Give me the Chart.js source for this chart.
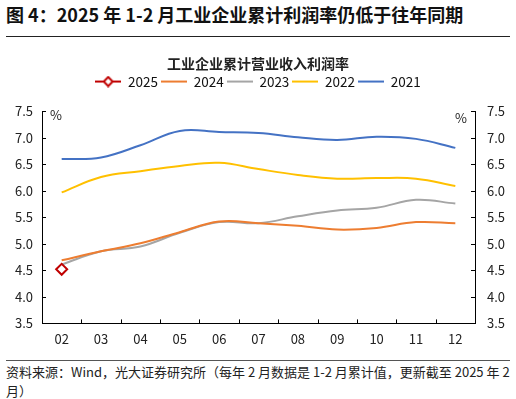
<!DOCTYPE html>
<html>
<head>
<meta charset="utf-8">
<script src="https://cdn.jsdelivr.net/npm/chart.js@4.4.1/dist/chart.umd.min.js"></script>
<style>
  body { margin: 0; background: #fff; font-family: "Noto Sans CJK SC", "Noto Sans", sans-serif; }
  #wrap { position: relative; width: 516px; height: 399px; overflow: hidden; }
  #head { position: absolute; left: 6px; top: 1px; font-size: 18px; font-weight: bold; color: #111; white-space: nowrap; }
  #rule1 { position: absolute; left: 6px; top: 36px; width: 504px; height: 1px; background: #222; }
  #rule2 { position: absolute; left: 6px; top: 360px; width: 504px; height: 1px; background: #555; }
  #foot { position: absolute; left: 6px; top: 362px; width: 506px; font-size: 13px; line-height: 19px; color: #222; }
  #box { position: absolute; left: 0; top: 50px; width: 516px; height: 305px; }
</style>
</head>
<body>
<div id="wrap">
  <div id="head">图 4：2025 年 1-2 月工业企业累计利润率仍低于往年同期</div>
  <div id="rule1"></div>
  <div id="box"><canvas id="chart"></canvas></div>
  <div id="rule2"></div>
  <div id="foot">资料来源：Wind，光大证券研究所（每年 2 月数据是 1-2 月累计值，更新截至 2025 年 2 月）</div>
</div>
<script>
// months (02 = Jan-Feb cumulative)
var months = ['02', '03', '04', '05', '06', '07', '08', '09', '10', '11', '12'];

// profit margin of operating revenue, %
var y2025 = [4.52, null, null, null, null, null, null, null, null, null, null];
var y2024 = [4.69, 4.86, 5.01, 5.22, 5.42, 5.39, 5.34, 5.27, 5.30, 5.41, 5.39];
var y2023 = [4.61, 4.86, 4.95, 5.21, 5.41, 5.39, 5.52, 5.63, 5.68, 5.83, 5.76];
var y2022 = [5.97, 6.26, 6.37, 6.47, 6.53, 6.41, 6.30, 6.23, 6.24, 6.23, 6.09];
var y2021 = [6.60, 6.63, 6.86, 7.13, 7.11, 7.09, 7.01, 6.96, 7.02, 6.98, 6.81];

var yTicks = [3.5, 4.0, 4.5, 5.0, 5.5, 6.0, 6.5, 7.0, 7.5];

var FONT = '"Noto Sans CJK SC", "Noto Sans", sans-serif';

// small legend icons: a line, with a diamond for 2025
function legendIcon(color, diamond) {
  var c = document.createElement('canvas');
  c.width = 26; c.height = 12;
  var g = c.getContext('2d');
  g.strokeStyle = color;
  g.lineWidth = 2;
  g.beginPath(); g.moveTo(0, 6); g.lineTo(26, 6); g.stroke();
  if (diamond) {
    g.fillStyle = '#fff';
    g.beginPath();
    g.moveTo(13, 1.5); g.lineTo(17.5, 6); g.lineTo(13, 10.5); g.lineTo(8.5, 6); g.closePath();
    g.fill(); g.stroke();
  }
  return c;
}

function lineSet(label, data, color) {
  return {
    label: label,
    data: data,
    borderColor: color,
    backgroundColor: color,
    borderWidth: 2,
    pointRadius: 0,
    pointHoverRadius: 0,
    tension: 0.4,
    fill: false,
    pointStyle: legendIcon(color, false)
  };
}

// extra room under the legend
var legendGap = {
  id: 'legendGap',
  beforeInit: function(chart) {
    var fit = chart.legend.fit;
    chart.legend.fit = function() {
      fit.bind(chart.legend)();
      this.height += 13;
    };
  }
};

// inward tick marks and the % units
var axisMarks = {
  id: 'axisMarks',
  afterDraw: function(chart) {
    var ctx = chart.ctx;
    var a = chart.chartArea;
    var xs = chart.scales.x, yl = chart.scales.y, yr = chart.scales.y2;
    ctx.save();
    ctx.strokeStyle = '#000';
    ctx.lineWidth = 1;
    ctx.beginPath();
    for (var i = 1; i < months.length; i++) {
      var px = Math.round(xs.getPixelForValue(i - 0.5)) + 0.5;
      ctx.moveTo(px, a.bottom); ctx.lineTo(px, a.bottom - 4);
    }
    yTicks.forEach(function(v) {
      var py = Math.round(yl.getPixelForValue(v)) + 0.5;
      ctx.moveTo(a.left, py); ctx.lineTo(a.left + 4, py);
      var pr = Math.round(yr.getPixelForValue(v)) + 0.5;
      ctx.moveTo(a.right, pr); ctx.lineTo(a.right - 4, pr);
    });
    ctx.stroke();
    ctx.fillStyle = '#222';
    ctx.font = '13px ' + FONT;
    ctx.textBaseline = 'middle';
    ctx.textAlign = 'left';
    ctx.fillText('%', a.left + 8, a.top + 4);
    ctx.textAlign = 'right';
    ctx.fillText('%', a.right - 8, a.top + 7);
    ctx.restore();
  }
};

var set2025 = {
  label: '2025',
  data: y2025,
  borderColor: '#C00000',
  backgroundColor: '#ffffff',
  borderWidth: 2,
  pointStyle: 'rectRot',
  pointRadius: 5.5,
  pointHoverRadius: 5.5,
  showLine: false
};

new Chart(document.getElementById('chart'), {
  type: 'line',
  data: {
    labels: months,
    datasets: [
      set2025,
      lineSet('2024', y2024, '#ED7D31'),
      lineSet('2023', y2023, '#A5A5A5'),
      lineSet('2022', y2022, '#FFC000'),
      lineSet('2021', y2021, '#4472C4')
    ]
  },
  options: {
    responsive: true,
    maintainAspectRatio: false,
    animation: false,
    events: [],
    layout: { padding: { left: 0, right: 0, top: 3, bottom: 0 } },
    plugins: {
      title: {
        display: true,
        text: '工业企业累计营业收入利润率',
        color: '#222',
        font: { family: FONT, size: 14, weight: 'bold' },
        padding: { top: 2, bottom: 0 }
      },
      legend: {
        display: true,
        labels: {
          usePointStyle: true,
          pointStyleWidth: 26,
          padding: 3,
          color: '#111',
          font: { family: FONT, size: 13.5 },
          generateLabels: function(chart) {
            return chart.data.datasets.map(function(ds, i) {
              var color = i === 0 ? '#C00000' : ds.borderColor;
              return {
                text: ds.label,
                pointStyle: i === 0 ? legendIcon('#C00000', true) : ds.pointStyle,
                fillStyle: color,
                strokeStyle: color,
                fontColor: '#111',
                lineWidth: 0,
                datasetIndex: i
              };
            });
          }
        }
      },
      tooltip: { enabled: false }
    },
    scales: {
      x: {
        offset: true,
        grid: { display: false, drawTicks: false },
        border: { color: '#000', width: 1 },
        ticks: { color: '#222', padding: 8, font: { family: FONT, size: 13 }, maxRotation: 0 }
      },
      y: {
        position: 'left',
        min: 3.5, max: 7.5,
        afterFit: function(s) { s.width = 42; },
        afterBuildTicks: function(s) { s.ticks = yTicks.map(function(v) { return { value: v }; }); },
        grid: { display: false, drawTicks: false },
        border: { color: '#000', width: 1 },
        ticks: { color: '#222', padding: 9, font: { family: FONT, size: 13 },
          callback: function(v) { return v.toFixed(1); } }
      },
      y2: {
        position: 'right',
        min: 3.5, max: 7.5,
        afterFit: function(s) { s.width = 41; },
        afterBuildTicks: function(s) { s.ticks = yTicks.map(function(v) { return { value: v }; }); },
        grid: { display: false, drawTicks: false },
        border: { color: '#000', width: 1 },
        ticks: { color: '#222', padding: 12, font: { family: FONT, size: 13 },
          callback: function(v) { return v.toFixed(1); } }
      }
    }
  },
  plugins: [legendGap, axisMarks]
});
</script>
</body>
</html>
